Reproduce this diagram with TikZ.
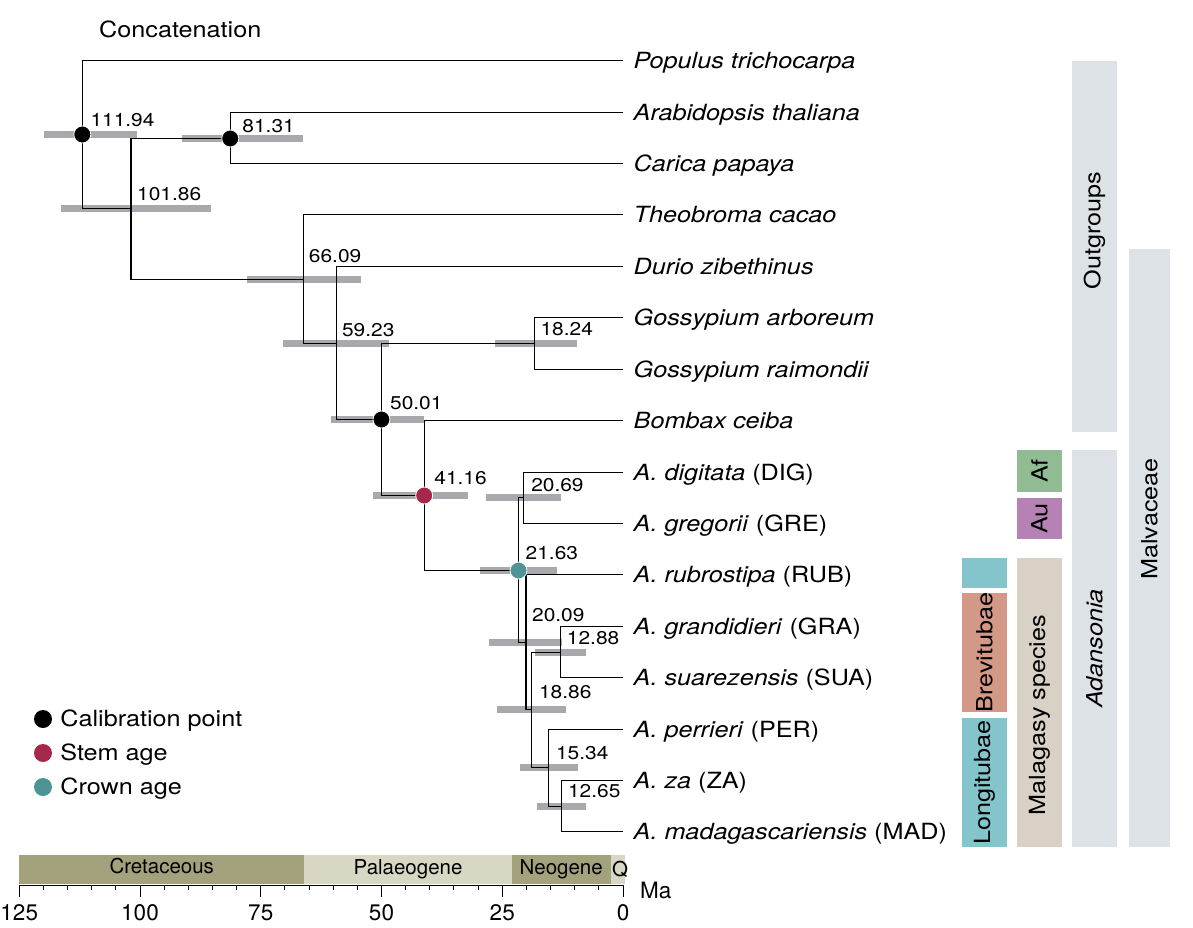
\documentclass[tikz,border=0pt]{standalone}
\usepackage{fontspec}
\setmainfont[FakeStretch=1.13]{TeX Gyre Heros}
\newfontfamily\plainfont{TeX Gyre Heros}
\usetikzlibrary{positioning}

\definecolor{hpdgrey}{HTML}{A8A8AD}
\definecolor{stemred}{HTML}{A6294B}
\definecolor{crownteal}{HTML}{4E9494}
\definecolor{cladegrey}{HTML}{DDE2E7}
\definecolor{afgreen}{HTML}{90BB93}
\definecolor{aupurple}{HTML}{B681B5}
\definecolor{malbeige}{HTML}{D9D1C6}
\definecolor{longteal}{HTML}{83C5CB}
\definecolor{brevsalmon}{HTML}{D49886}
\definecolor{perdark}{HTML}{A3A27D}
\definecolor{perlight}{HTML}{D8D7C3}

\newcommand{\leaffont}{\fontsize{22.3}{26}\selectfont}
\newcommand{\agefont}{\fontsize{18.5}{22}\selectfont}
\newcommand{\axisfont}{\plainfont\fontsize{22.5}{26}\selectfont}
\newcommand{\perfont}{\plainfont\fontsize{20.5}{24}\selectfont}

\begin{document}
\begin{tikzpicture}[x=1pt,y=-1pt]
        \tikzstyle{hpd}=[draw=hpdgrey, line width=6.5pt]
        \tikzstyle{branch}=[draw, line width=1.1pt]
        \tikzstyle{calib}=[circle, fill=black, draw=white, line width=0.8pt, minimum size=17pt, inner sep=0pt]
        \tikzstyle{age}=[anchor=base west, inner sep=0pt, font=\agefont]
        \tikzstyle{taxon}=[anchor=base west, inner sep=0pt, font=\leaffont\itshape, xshift=10.5pt, yshift=-8pt]
        \tikzstyle{clade}=[rotate=90, inner sep=0pt, font=\leaffont]
        \tikzstyle{key}=[circle, inner sep=0pt, minimum size=18pt]
        \useasboundingbox (0,0) rectangle (1193,928);

        \node [anchor=base west, inner sep=0pt, font=\leaffont] (title) at (99,37.5) {Concatenation};

       \begin{scope}[xshift=623pt, x=-4.83pt]
         % tips
         \coordinate (pop) at (0,60.5);
         \coordinate (ara) at (0,112.5);
         \coordinate (car) at (0,163.5);
         \coordinate (the) at (0,214.5);
         \coordinate (dur) at (0,266.5);
         \coordinate (garb) at (0,317.5);
         \coordinate (grai) at (0,369.5);
         \coordinate (bom) at (0,420.5);
         \coordinate (dig) at (0,472.5);
         \coordinate (gre) at (0,523.5);
         \coordinate (rub) at (0,574.5);
         \coordinate (gran) at (0,626.5);
         \coordinate (sua) at (0,677.5);
         \coordinate (per) at (0,729.5);
         \coordinate (za) at (0,780.5);
         \coordinate (mad) at (0,831.5);

         % internal nodes, x = age in Ma
         \coordinate (n11194) at (111.94,134.5);
         \coordinate (n10186) at (101.86,208.5);
         \coordinate (n8131) at (81.31,138.5);
         \coordinate (n6609) at (66.09,279.5);
         \coordinate (n5923) at (59.23,343.5);
         \coordinate (n1824) at (18.24,343.5);
         \coordinate (n5001) at (50.01,419.5);
         \coordinate (n4116) at (41.16,495.5);
         \coordinate (n2163) at (21.63,570.5);
         \coordinate (n2069) at (20.69,497.5);
         \coordinate (n2009) at (20.09,642.5);
         \coordinate (n1886) at (18.86,709.5);
         \coordinate (n1288) at (12.88,652.5);
         \coordinate (n1534) at (15.34,767.5);
         \coordinate (n1265) at (12.65,806.5);

         % 95% intervals
         \foreach \n/\lo/\hi in {n11194/119.9/100.6, n10186/116.4/85.3, n8131/91.3/66.3,
             n6609/77.8/54.2, n5923/70.4/48.4, n5001/60.5/41.2, n1824/26.5/9.5,
             n4116/51.8/32.1, n2069/28.4/12.8, n2163/29.6/13.7, n2009/27.7/12.6,
             n1288/18.2/7.7, n1886/26.1/11.8, n1534/21.3/9.3, n1265/17.8/7.7}
           \draw[hpd] (\lo,0 |- \n) -- (\hi,0 |- \n);

         \draw[branch] (pop) -| (n11194) |- (n10186);
         \draw[branch] (n8131) -| (n10186) |- (n6609);
         \draw[branch] (ara) -| (n8131) |- (car);
         \draw[branch] (the) -| (n6609) |- (n5923);
         \draw[branch] (dur) -| (n5923) |- (n5001);
         \draw[branch] (garb) -| (n1824) |- (grai);
         \draw[branch] (n1824) -| (n5001) |- (n4116);
         \draw[branch] (bom) -| (n4116) |- (n2163);
         \draw[branch] (n2069) -| (n2163) |- (n2009);
         \draw[branch] (dig) -| (n2069) |- (gre);
         \draw[branch] (rub) -| (n2009) |- (n1886);
         \draw[branch] (n1288) -| (n1886) |- (n1534);
         \draw[branch] (gran) -| (n1288) |- (sua);
         \draw[branch] (per) -| (n1534) |- (n1265);
         \draw[branch] (za) -| (n1265) |- (mad);

         \node [calib] (d11194) at (n11194) {};
         \node [calib] (d8131) at (n8131) {};
         \node [calib] (d5001) at (n5001) {};
         \node [calib, fill=stemred] (d4116) at (n4116) {};
         \node [calib, fill=crownteal] (d2163) at (n2163) {};

         \foreach \n/\t/\dx/\dy in {n11194/111.94/8pt/8pt, n10186/101.86/6pt/7.6pt,
             n8131/81.31/12pt/6.4pt, n6609/66.09/5pt/17.5pt, n5923/59.23/5pt/7.4pt,
             n1824/18.24/5.5pt/8pt, n5001/50.01/8.5pt/10.3pt, n4116/41.16/10pt/11.2pt,
             n2069/20.69/8pt/6.2pt, n2163/21.63/7pt/11.2pt, n2009/20.09/6pt/20.8pt,
             n1288/12.88/6pt/8pt, n1886/18.86/7pt/10.6pt, n1534/15.34/7pt/7.8pt,
             n1265/12.65/6pt/9pt}
           \node [age, xshift=\dx, yshift=\dy] (a\n) at (\n) {\t};

         \node [taxon] (pop-t) at (pop) {Populus trichocarpa};
         \node [taxon] (ara-t) at (ara) {Arabidopsis thaliana};
         \node [taxon] (car-t) at (car) {Carica papaya};
         \node [taxon] (the-t) at (the) {Theobroma cacao};
         \node [taxon] (dur-t) at (dur) {Durio zibethinus};
         \node [taxon] (garb-t) at (garb) {Gossypium arboreum};
         \node [taxon] (grai-t) at (grai) {Gossypium raimondii};
         \node [taxon] (bom-t) at (bom) {Bombax ceiba};
         \node [taxon] (dig-t) at (dig) {A. digitata \textup{(DIG)}};
         \node [taxon] (gre-t) at (gre) {A. gregorii \textup{(GRE)}};
         \node [taxon] (rub-t) at (rub) {A. rubrostipa \textup{(RUB)}};
         \node [taxon] (gran-t) at (gran) {A. grandidieri \textup{(GRA)}};
         \node [taxon] (sua-t) at (sua) {A. suarezensis \textup{(SUA)}};
         \node [taxon] (per-t) at (per) {A. perrieri \textup{(PER)}};
         \node [taxon] (za-t) at (za) {A. za \textup{(ZA)}};
         \node [taxon] (mad-t) at (mad) {A. madagascariensis \textup{(MAD)}};

         % geological time scale
         \fill[perdark] (125,855) rectangle (66,884);
         \fill[perlight] (66,855) rectangle (23.03,884);
         \fill[perdark] (23.03,855) rectangle (2.58,884);
         \fill[perlight] (2.58,855) rectangle (-0.5,884);
         \node [font=\perfont] (cret) at (95.5,866) {Cretaceous};
         \node [font=\perfont] (pal) at (44.5,869) {Palaeogene};
         \node [font=\perfont] (neo) at (12.8,869) {Neogene};
         \node [font=\perfont] (quat) at (0.6,869) {Q};

         \draw[line width=1pt] (125,885) -- (0,885);
         \foreach \t in {0,5,...,125}
           \draw[line width=1pt] (\t,885) -- (\t,889.5);
         \foreach \t in {0,25,...,125} {
           \draw[line width=1pt] (\t,885) -- (\t,897);
           \node [font=\axisfont] (tick\t) at (\t,913) {\t};
         }
         \node [font=\axisfont, anchor=west, inner sep=0pt] (ma) at (-3.5,890) {Ma};
        \end{scope}

        % legend
        \node [key, fill=black] (k1) at (43,719) {};
        \node [key, fill=stemred] (k2) at (43,753) {};
        \node [key, fill=crownteal] (k3) at (43,787) {};
        \node [anchor=base west, inner sep=0pt, font=\leaffont] (k1-t) at ([xshift=8pt, yshift=-7.5pt]k1.east) {Calibration point};
        \node [anchor=base west, inner sep=0pt, font=\leaffont] (k2-t) at ([xshift=8pt, yshift=-7.5pt]k2.east) {Stem age};
        \node [anchor=base west, inner sep=0pt, font=\leaffont] (k3-t) at ([xshift=8pt, yshift=-7.5pt]k3.east) {Crown age};

        % clade bars
        \node [clade, fill=cladegrey, minimum width=371pt, minimum height=45pt] (outg) at (1094.5,246.5) {};
        \node [clade] (outg-t) at ([yshift=15.7pt]outg.center) {Outgroups};
        \node [clade, fill=cladegrey, minimum width=598pt, minimum height=41pt] (malv) at (1149.5,548) {};
        \node [clade] (malv-t) at ([yshift=29pt]malv.center) {Malvaceae};
        \node [clade, fill=cladegrey, minimum width=397pt, minimum height=45pt] (adan) at (1094.5,648.5) {\itshape Adansonia};
        \node [clade, fill=afgreen, minimum width=42pt, minimum height=45pt] (af) at (1039.5,471) {Af};
        \node [clade, fill=aupurple, minimum width=41pt, minimum height=45pt] (au) at (1039.5,518.5) {Au};
        \node [clade, fill=malbeige, minimum width=289pt, minimum height=45pt] (mala) at (1039.5,702.5) {};
        \node [clade] (mala-t) at ([yshift=-12.5pt]mala.center) {Malagasy species};
        \node [clade, fill=longteal, minimum width=30pt, minimum height=45pt] (rubbox) at (984.5,573) {};
        \node [clade, fill=brevsalmon, minimum width=111pt, minimum height=45pt] (brev) at (984.5,652.5) {Brevitubae};
        \node [clade, fill=longteal, minimum width=129pt, minimum height=45pt] (long) at (984.5,782.5) {Longitubae};
      \end{tikzpicture}
\end{document}
